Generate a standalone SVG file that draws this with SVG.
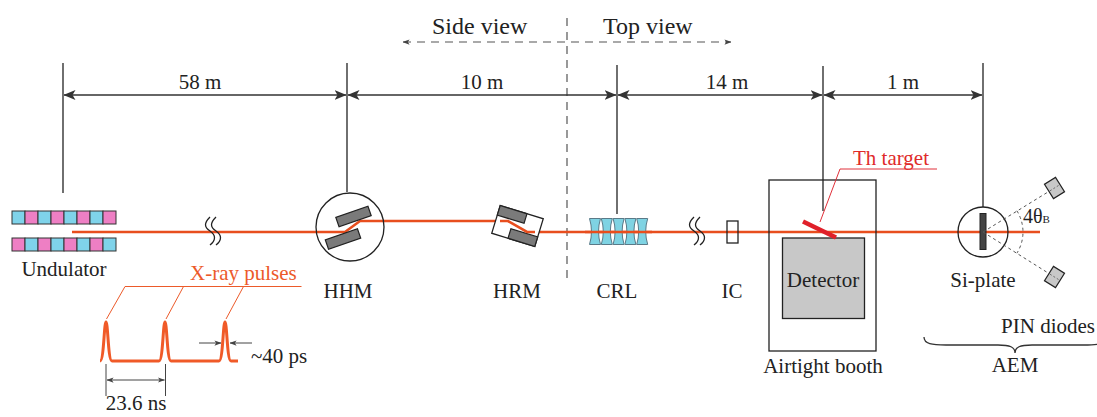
<svg xmlns="http://www.w3.org/2000/svg" width="1097" height="417" viewBox="0 0 1097 417">
  <defs>
    <style>
      .lbl { font-family: 'Liberation Serif', 'DejaVu Serif', 'Times New Roman', serif; font-size: 21px; fill: #222; }
      .lbl-c { text-anchor: middle; }
      .orange { fill: #ec5a2a; }
      .red { fill: #e02a2a; }
      .dim { stroke: #333; stroke-width: 1.4; fill: none; }
      .ext { stroke: #333; stroke-width: 1.4; fill: none; }
      .beam { stroke: #e84e1e; stroke-width: 2.6; fill: none; }
      .dash { stroke: #555; stroke-width: 1.2; stroke-dasharray: 8 6; fill: none; }
      .outline { stroke: #222; stroke-width: 1.3; fill: none; }
      .crystal { fill: #7a7a7a; stroke: #222; stroke-width: 1.2; }
    </style>
    <marker id="arrow" viewBox="0 0 12 10" refX="11.5" refY="5" markerWidth="12" markerHeight="10" markerUnits="userSpaceOnUse" orient="auto-start-reverse">
      <path d="M0,0 L12,5 L0,10 L3,5 Z" fill="#333"/>
    </marker>
    <marker id="arrow-s" viewBox="0 0 8 6" refX="7.5" refY="3" markerWidth="7" markerHeight="6" markerUnits="userSpaceOnUse" orient="auto-start-reverse">
      <path d="M0,0 L8,3 L0,6 L2,3 Z" fill="#444"/>
    </marker>
  </defs>

  <!-- side / top view divider -->
  <g id="view-split">
    <text class="lbl" x="432" y="34" style="font-size:24px">Side view</text>
    <text class="lbl" x="603" y="34" style="font-size:24px">Top view</text>
    <line class="dash" x1="403" y1="42" x2="731" y2="42" marker-start="url(#arrow-s)" marker-end="url(#arrow-s)"/>
    <line class="dash" x1="567" y1="18" x2="567" y2="278"/>
  </g>

  <!-- distance annotations -->
  <g id="distances">
    <line class="ext" x1="63" y1="63" x2="63" y2="193"/>
    <line class="ext" x1="347" y1="63" x2="347" y2="192"/>
    <line class="ext" x1="617" y1="65" x2="617" y2="214"/>
    <line class="ext" x1="823" y1="66" x2="823" y2="211"/>
    <line class="ext" x1="983" y1="63" x2="983" y2="207"/>
    <line class="dim" x1="64" y1="95" x2="346" y2="95" marker-start="url(#arrow)" marker-end="url(#arrow)"/>
    <line class="dim" x1="348" y1="95" x2="616" y2="95" marker-start="url(#arrow)" marker-end="url(#arrow)"/>
    <line class="dim" x1="618" y1="95" x2="822" y2="95" marker-start="url(#arrow)" marker-end="url(#arrow)"/>
    <line class="dim" x1="824" y1="95" x2="982" y2="95" marker-start="url(#arrow)" marker-end="url(#arrow)"/>
    <text class="lbl lbl-c" x="200" y="89">58 m</text>
    <text class="lbl lbl-c" x="482" y="89">10 m</text>
    <text class="lbl lbl-c" x="727" y="89">14 m</text>
    <text class="lbl lbl-c" x="903" y="89">1 m</text>
  </g>

  <!-- undulator -->
  <g id="undulator">
    <g stroke="#333" stroke-width="1">
      <rect x="12" y="211" width="13" height="13" fill="#7fd3ea"/>
      <rect x="25" y="211" width="13" height="13" fill="#ee7fc4"/>
      <rect x="38" y="211" width="13" height="13" fill="#7fd3ea"/>
      <rect x="51" y="211" width="13" height="13" fill="#ee7fc4"/>
      <rect x="64" y="211" width="13" height="13" fill="#7fd3ea"/>
      <rect x="77" y="211" width="13" height="13" fill="#ee7fc4"/>
      <rect x="90" y="211" width="13" height="13" fill="#7fd3ea"/>
      <rect x="103" y="211" width="13" height="13" fill="#ee7fc4"/>
      <rect x="12" y="238" width="13" height="13" fill="#ee7fc4"/>
      <rect x="25" y="238" width="13" height="13" fill="#7fd3ea"/>
      <rect x="38" y="238" width="13" height="13" fill="#ee7fc4"/>
      <rect x="51" y="238" width="13" height="13" fill="#7fd3ea"/>
      <rect x="64" y="238" width="13" height="13" fill="#ee7fc4"/>
      <rect x="77" y="238" width="13" height="13" fill="#7fd3ea"/>
      <rect x="90" y="238" width="13" height="13" fill="#ee7fc4"/>
      <rect x="103" y="238" width="13" height="13" fill="#7fd3ea"/>
    </g>
    <text class="lbl lbl-c" x="64" y="276">Undulator</text>
  </g>

  <!-- beam path -->
  <g id="connectors">
    <path class="beam" d="M72,232 L345,232 L360,221 L508,221 L527,232 L1040,232"/>
  </g>

  <!-- beamline breaks -->
  <g id="break-1" class="outline">
    <path d="M210,217 C204,223 204,227 210,231 S216,240 210,245"/>
    <path d="M216,217 C210,223 210,227 216,231 S222,240 216,245"/>
  </g>
  <g id="break-2" class="outline">
    <path d="M694,217 C688,223 688,227 694,231 S700,240 694,245"/>
    <path d="M700,217 C694,223 694,227 700,231 S706,240 700,245"/>
  </g>

  <!-- high-heat-load monochromator -->
  <g id="hhm">
    <circle cx="350" cy="227" r="34" class="outline"/>
    <rect class="crystal" x="-17" y="-5" width="34" height="10" transform="translate(353.5,216.5) rotate(-19)"/>
    <rect class="crystal" x="-17" y="-5" width="34" height="10" transform="translate(343,239) rotate(-19)"/>
    <text class="lbl lbl-c" x="348" y="298">HHM</text>
  </g>

  <!-- high-resolution monochromator -->
  <g id="hrm">
    <g transform="translate(517.5,226) rotate(17)">
      <rect x="-22.5" y="-14.5" width="45" height="29" fill="#fff" stroke="#222" stroke-width="1.3"/>
      <rect class="crystal" x="-22.5" y="-14.5" width="28" height="10"/>
      <rect class="crystal" x="-5.5" y="4.5" width="28" height="10"/>
    </g>
    <path class="beam" d="M500,221 L508,221 L527,232 L535,232"/>
    <text class="lbl lbl-c" x="517" y="298">HRM</text>
  </g>

  <!-- compound refractive lenses -->
  <g id="crl">
    <g fill="#7fd3e3" stroke="#5a7a88" stroke-width="1">
      <path d="M589.5,218.5 L600.5,218.5 Q596.5,231.5 600.5,244.5 L589.5,244.5 Q593.5,231.5 589.5,218.5 Z"/>
      <path d="M601.3,218.5 L612.3,218.5 Q608.3,231.5 612.3,244.5 L601.3,244.5 Q605.3,231.5 601.3,218.5 Z"/>
      <path d="M613.1,218.5 L624.1,218.5 Q620.1,231.5 624.1,244.5 L613.1,244.5 Q617.1,231.5 613.1,218.5 Z"/>
      <path d="M624.9,218.5 L635.9,218.5 Q631.9,231.5 635.9,244.5 L624.9,244.5 Q628.9,231.5 624.9,218.5 Z"/>
      <path d="M636.7,218.5 L647.7,218.5 Q643.7,231.5 647.7,244.5 L636.7,244.5 Q640.7,231.5 636.7,218.5 Z"/>
    </g>
    <line class="beam" x1="585" y1="232" x2="652" y2="232"/>
    <text class="lbl lbl-c" x="617" y="298">CRL</text>
  </g>

  <!-- ionization chamber -->
  <g id="ic">
    <rect x="727" y="221" width="11" height="22" fill="none" stroke="#222" stroke-width="1.3"/>
    <text class="lbl lbl-c" x="732" y="298">IC</text>
  </g>

  <!-- airtight booth with detector and Th target -->
  <g id="booth">
    <rect x="769" y="180" width="107" height="171" fill="none" stroke="#222" stroke-width="1.3"/>
    <rect x="782.5" y="238" width="82" height="80.5" fill="#c8c8c8" stroke="#222" stroke-width="1.3"/>
    <text class="lbl lbl-c" x="823" y="287">Detector</text>
    <text class="lbl lbl-c" x="823" y="373">Airtight booth</text>
  </g>
  <g id="th-target">
    <line x1="803" y1="221.5" x2="836" y2="237.5" stroke="#e0202a" stroke-width="4.5"/>
    <path d="M820,222 L840,169 L937,169" fill="none" stroke="#e0303a" stroke-width="1"/>
    <text class="lbl red" x="853" y="165">Th target</text>
  </g>

  <!-- Si plate and PIN diodes (AEM) -->
  <g id="aem">
    <circle cx="983" cy="232" r="25" class="outline"/>
    <rect x="980" y="213.5" width="6" height="36" fill="#444" stroke="#222" stroke-width="1"/>
    <g stroke="#555" stroke-width="1" stroke-dasharray="3 3" fill="none">
      <line x1="983" y1="232" x2="1054.5" y2="188"/>
      <line x1="983" y1="232" x2="1054.5" y2="277"/>
      <path d="M1016.9,210.8 A40,40 0 0 1 1016.9,253.2"/>
    </g>
    <rect x="-6.5" y="-8.5" width="13" height="17" fill="#c8c8c8" stroke="#222" stroke-width="1.2" transform="translate(1054.5,188) rotate(-32)"/>
    <rect x="-6.5" y="-8.5" width="13" height="17" fill="#c8c8c8" stroke="#222" stroke-width="1.2" transform="translate(1054.5,277) rotate(32)"/>
    <line x1="1050" y1="190.8" x2="1059" y2="185.2" stroke="#555" stroke-width="0.8" stroke-dasharray="2 2"/>
    <line x1="1050" y1="274.2" x2="1059" y2="279.8" stroke="#555" stroke-width="0.8" stroke-dasharray="2 2"/>
    <text class="lbl" x="1023" y="223" style="font-size:20px">4θ<tspan style="font-size:11px">B</tspan></text>
    <text class="lbl lbl-c" x="983" y="287">Si-plate</text>
    <text class="lbl" x="1095" y="333" text-anchor="end">PIN diodes</text>
    <path d="M924,337 C924,344 932,345 946,345 L998,345 C1010,345 1015,347 1015,353 C1015,347 1020,345 1032,345 L1084,345 C1098,345 1106,344 1106,337" fill="none" stroke="#333" stroke-width="1.3"/>
    <text class="lbl lbl-c" x="1015" y="372">AEM</text>
  </g>

  <!-- X-ray pulse train -->
  <g id="pulses">
    <path d="M100,361 C104,361 104,322 106,322 C108,322 108,361 112,361 L159,361 C163,361 163,322 165,322 C167,322 167,361 171,361 L219,361 C223,361 223,322 225,322 C227,322 227,361 231,361 L238,361" fill="none" stroke="#f05a28" stroke-width="3"/>
    <path d="M106.5,319 L125,286.5 L301.5,286.5 M183.5,286.5 L166,319 M243.5,286.5 L226,319" fill="none" stroke="#ec5a2a" stroke-width="1"/>
    <text class="lbl orange" x="190" y="280">X-ray pulses</text>
    <line x1="199" y1="343" x2="221" y2="343" stroke="#444" stroke-width="1" marker-end="url(#arrow-s)"/>
    <line x1="252" y1="343" x2="230" y2="343" stroke="#444" stroke-width="1" marker-end="url(#arrow-s)"/>
    <text class="lbl" x="251" y="363">~40 ps</text>
    <line x1="106" y1="364" x2="106" y2="396" stroke="#444" stroke-width="1"/>
    <line x1="165.5" y1="364" x2="165.5" y2="396" stroke="#444" stroke-width="1"/>
    <line x1="107" y1="380" x2="164.5" y2="380" stroke="#444" stroke-width="1" marker-start="url(#arrow-s)" marker-end="url(#arrow-s)"/>
    <text class="lbl lbl-c" x="136" y="410">23.6 ns</text>
  </g>
</svg>
